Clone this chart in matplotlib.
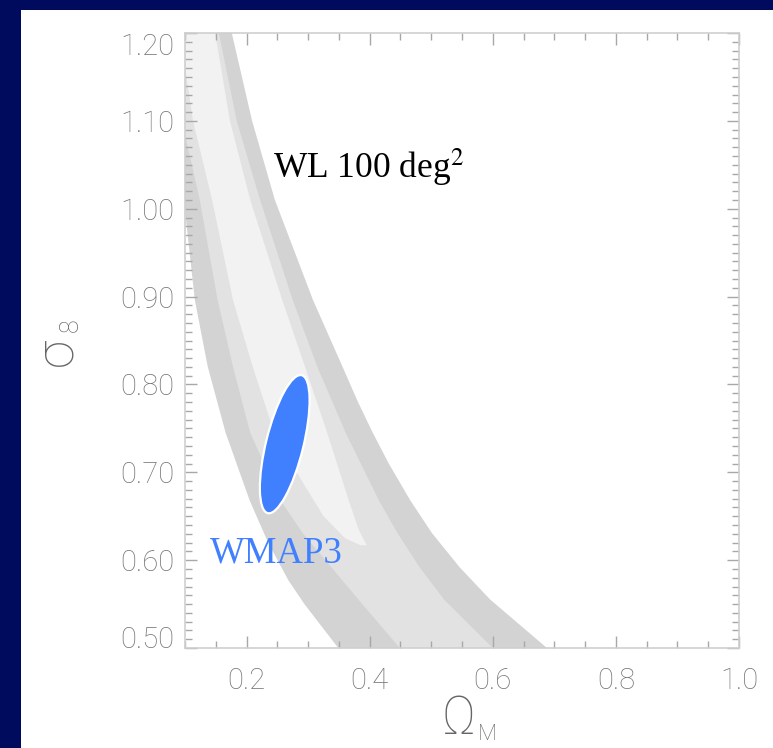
import numpy as np
import matplotlib
matplotlib.use('Agg')
import matplotlib.pyplot as plt
import matplotlib.transforms as mtransforms
from matplotlib.patches import Rectangle, Ellipse
from matplotlib.ticker import MultipleLocator

# contour boundaries (sigma_8 -> Omega_M)
# outer (3 sigma) band
s8_3_left = [1.25, 1.01, 0.896, 0.82, 0.745, 0.668, 0.62, 0.577, 0.55, 0.50, 0.48]
om_3_left = [0.06, 0.098, 0.116, 0.137, 0.166, 0.205, 0.235, 0.268, 0.294, 0.349, 0.372]
s8_3_right = [0.48, 0.50, 0.555, 0.592, 0.631, 0.668, 0.71, 0.745, 0.78, 0.82, 0.896, 1.01, 1.10, 1.20, 1.25]
om_3_right = [0.72, 0.688, 0.596, 0.546, 0.501, 0.466, 0.431, 0.405, 0.381, 0.356, 0.308, 0.246, 0.209, 0.176, 0.161]
# 2 sigma
s8_2_left = [1.25, 1.10, 1.01, 0.896, 0.82, 0.745, 0.668, 0.63, 0.60, 0.55, 0.50, 0.48]
om_2_left = [0.06, 0.095, 0.124, 0.153, 0.178, 0.206, 0.255, 0.292, 0.328, 0.388, 0.449, 0.474]
s8_2_right = [0.48, 0.50, 0.555, 0.592, 0.631, 0.668, 0.745, 0.82, 0.896, 1.01, 1.10, 1.20, 1.25]
om_2_right = [0.63, 0.600, 0.521, 0.481, 0.445, 0.415, 0.361, 0.315, 0.275, 0.222, 0.184, 0.155, 0.142]
# 1 sigma
s8_1_left = [1.25, 1.20, 1.10, 1.01, 0.896, 0.82, 0.745, 0.69, 0.65, 0.625, 0.617]
om_1_left = [0.08, 0.092, 0.113, 0.144, 0.178, 0.210, 0.245, 0.29, 0.325, 0.36, 0.385]
s8_1_right = [0.617, 0.635, 0.668, 0.745, 0.82, 0.896, 1.01, 1.10, 1.20, 1.25]
om_1_right = [0.395, 0.382, 0.366, 0.331, 0.295, 0.258, 0.206, 0.173, 0.149, 0.138]

# WMAP3 ellipse: centre and the two half-axis vectors (data units)
wmap_center = (0.262, 0.732)
wmap_major = (0.0276, 0.0785)
wmap_minor = (0.0295, -0.0051)

xticks = [0.2, 0.4, 0.6, 0.8, 1.0]
yticks = [0.5, 0.6, 0.7, 0.8, 0.9, 1.0, 1.1, 1.2]

navy = '#010b5e'
dark = '#d3d3d3'
mid = '#e2e2e2'
light = '#f2f2f2'
blue = '#4080ff'
tick_grey = '#747474'

plt.rcParams['mathtext.fontset'] = 'stix'

fig = plt.figure(figsize=(7.73, 7.48), dpi=100, facecolor=navy)
fig.patches.append(Rectangle((21/773, 0), 1 - 21/773, 1 - 10/748,
                             transform=fig.transFigure, facecolor='white',
                             edgecolor='none', zorder=-5))

ax = fig.add_axes([185/773, 100/748, 554/773, 615/748])
ax.set_facecolor('white')

def band(sl, ol, sr, orr, color):
    xs = list(ol) + list(orr)
    ys = list(sl) + list(sr)
    ax.fill(xs, ys, color=color, lw=0)

band(s8_3_left, om_3_left, s8_3_right, om_3_right, dark)
band(s8_2_left, om_2_left, s8_2_right, om_2_right, mid)
band(s8_1_left, om_1_left, s8_1_right, om_1_right, light)

# WMAP3 ellipse as a transformed unit circle
tr = mtransforms.Affine2D.from_values(wmap_minor[0], wmap_minor[1],
                                      wmap_major[0], wmap_major[1],
                                      wmap_center[0], wmap_center[1]) + ax.transData
ax.add_patch(Ellipse((0, 0), 2, 2, transform=tr, facecolor=blue,
                     edgecolor='white', lw=1.6, zorder=5))

ax.text(0.1406, 0.597, 'WMAP3', color=blue, fontsize=26.5,
        family='Liberation Serif', zorder=6)
ax.text(0.243, 1.035, r'WL 100 deg$^2$', color='black', fontsize=25.5,
        family='Liberation Serif', zorder=6)

ax.set_xlim(0.1, 1.0)
ax.set_ylim(0.5, 1.2)
ax.set_xticks(xticks)
ax.set_yticks(yticks)
ax.set_xticklabels(['%.1f' % v for v in xticks])
ax.set_yticklabels(['%.2f' % v for v in yticks])
ax.xaxis.set_minor_locator(MultipleLocator(0.05))
ax.yaxis.set_minor_locator(MultipleLocator(0.01))
ax.tick_params(which='both', direction='in', top=True, right=True,
               color='#a8a8a8', width=1)
ax.tick_params(which='major', length=8.5)
ax.tick_params(which='minor', length=5)
ax.tick_params(axis='x', pad=14)
ax.tick_params(axis='y', pad=8)
for lab in ax.get_xticklabels() + ax.get_yticklabels():
    lab.set_family('Roboto')
    lab.set_fontweight('light')
    lab.set_fontsize(21)
    lab.set_color(tick_grey)
ylabs = ax.get_yticklabels()
ylabs[0].set_va('baseline')
ylabs[-1].set_va('top')
for s in ax.spines.values():
    s.set_color('#cfcfcf')
    s.set_linewidth(1.2)

# axis titles
fig.text(459/773, 1 - 719/748, 'Ω', fontsize=38, family='Roboto',
         fontweight='light', color='#666666', ha='center', va='center')
fig.text(487/773, 1 - 735/748, 'M', fontsize=16, family='Roboto',
         fontweight='light', color='#666666', ha='center', va='center')
fig.text(57/773, 1 - 352/748, 'σ', fontsize=37, family='Roboto',
         fontweight='light', color='#666666', ha='center', va='center',
         rotation=90)
fig.text(71/773, 1 - 325/748, '8', fontsize=18, family='Roboto',
         fontweight='light', color='#666666', ha='center', va='center',
         rotation=90)

fig.savefig('out.png', dpi=100, facecolor=navy)
